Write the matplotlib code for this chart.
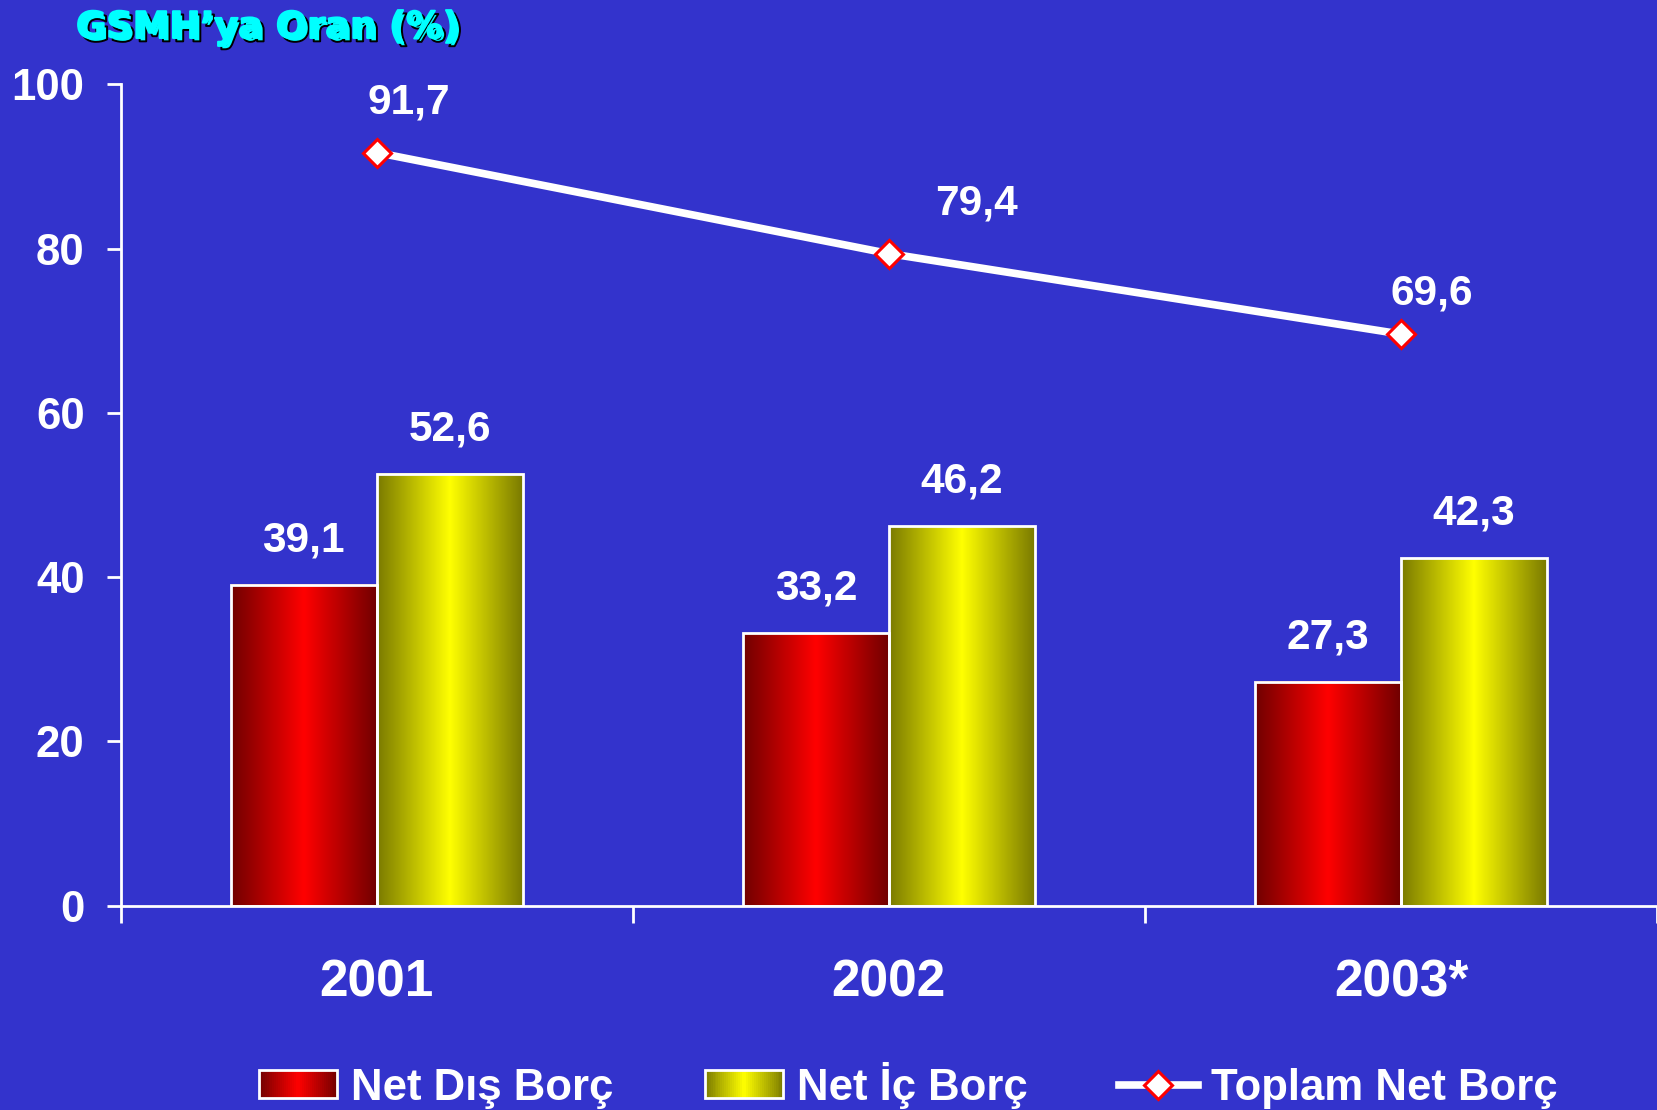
import numpy as np
import matplotlib
matplotlib.use("Agg")
import matplotlib.pyplot as plt
import matplotlib.patheffects as pe
from matplotlib.colors import LinearSegmentedColormap, to_rgb
from matplotlib.legend_handler import HandlerBase
from matplotlib.patches import Rectangle
from matplotlib.lines import Line2D

# data
years = ["2001", "2002", "2003*"]
net_dis = [39.1, 33.2, 27.3]
net_ic = [52.6, 46.2, 42.3]
toplam = [91.7, 79.4, 69.6]
labels = ["Net Dış Borç", "Net İç Borç", "Toplam Net Borç"]

BG = "#3333CC"
RED = ("#700000", "#FF0000")
YEL = ("#7A7A00", "#FFFF00")
FONT = "Liberation Sans"


def fmt(v):
    return ("%.1f" % v).replace(".", ",")


def make_cmap(dark, bright):
    return LinearSegmentedColormap.from_list("g", [dark, bright, dark])


class HandlerGradient(HandlerBase):
    def __init__(self, dark, bright, n=40):
        HandlerBase.__init__(self)
        self.dark = np.array(to_rgb(dark))
        self.bright = np.array(to_rgb(bright))
        self.n = n

    def create_artists(self, legend, orig_handle, xdescent, ydescent,
                       width, height, fontsize, trans):
        arts = []
        sw = width / self.n
        for i in range(self.n):
            t = (i + 0.5) / self.n
            k = 1 - abs(2 * t - 1)
            c = self.dark + (self.bright - self.dark) * k
            r = Rectangle((-xdescent + i * sw, -ydescent), sw * 1.05, height,
                          facecolor=c, edgecolor="none", transform=trans)
            arts.append(r)
        arts.append(Rectangle((-xdescent, -ydescent), width, height,
                              facecolor="none", edgecolor="white", lw=2,
                              transform=trans))
        return arts


fig = plt.figure(figsize=(16.57, 11.10), dpi=100, facecolor=BG)
ax = fig.add_axes([0.0728, 0.184, 0.9272, 0.74])
ax.set_facecolor(BG)

x = np.arange(len(years))
w = 0.285

grad = np.linspace(0, 1, 256).reshape(1, -1)
bars_red = ax.bar(x - w / 2, net_dis, w, facecolor="none", edgecolor="white", lw=2, zorder=3)
bars_yel = ax.bar(x + w / 2, net_ic, w, facecolor="none", edgecolor="white", lw=2, zorder=3)
for bars, cols in ((bars_red, RED), (bars_yel, YEL)):
    cm = make_cmap(*cols)
    for b in bars:
        ax.imshow(grad, cmap=cm, aspect="auto", zorder=2,
                  extent=(b.get_x(), b.get_x() + b.get_width(), 0, b.get_height()))
        ax.annotate(fmt(b.get_height()), (b.get_x() + b.get_width() / 2, b.get_height()),
                    xytext=(0, 32), textcoords="offset points", ha="center", va="center",
                    color="white", fontsize=30.5, fontweight="bold", family=FONT)

ax.plot(x, toplam, color="white", lw=5.5, marker="D", ms=14, mfc="white",
        mec="red", mew=2.2, zorder=4)
line_offsets = [(23, 36), (63, 36), (22, 29)]
for xi, v, off in zip(x, toplam, line_offsets):
    ax.annotate(fmt(v), (xi, v), xytext=off, textcoords="offset points",
                ha="center", va="center", color="white", fontsize=30.5,
                fontweight="bold", family=FONT)

ax.set_xlim(-0.5, 2.5)
ax.set_ylim(0, 100)

for s in ["top", "right"]:
    ax.spines[s].set_visible(False)
for s in ["left", "bottom"]:
    ax.spines[s].set_color("white")
    ax.spines[s].set_linewidth(2)

ax.set_yticks(np.arange(0, 101, 20))
ax.tick_params(axis="y", colors="white", length=10, width=2, pad=16,
               labelsize=31.5)
ax.set_xticks([-0.5, 0.5, 1.5, 2.5])
ax.set_xticklabels([])
ax.set_xticks(x, minor=True)
ax.set_xticklabels(years, minor=True)
ax.tick_params(axis="x", which="major", colors="white", length=12, width=2)
ax.tick_params(axis="x", which="minor", length=0, pad=38, labelsize=37,
               labelcolor="white")
for lab in ax.get_yticklabels() + ax.get_xticklabels(minor=True):
    lab.set_fontweight("bold")
    lab.set_family(FONT)

# title with a drop shadow
fig.text(0.046, 1 - 38 / 1110, "GSMH’ya Oran (%)", color="#00FFFF",
         fontsize=26.5, fontweight="bold", family="DejaVu Sans", va="baseline",
         path_effects=[pe.SimplePatchShadow(offset=(2.4, -2.4), shadow_rgbFace="black", alpha=1),
                       pe.Stroke(offset=(2.4, -2.4), linewidth=1.4, foreground="black"),
                       pe.Stroke(linewidth=1.4, foreground="#00FFFF"),
                       pe.Normal()])

h_red = Rectangle((0, 0), 1, 1)
h_yel = Rectangle((0, 0), 1, 1)
h_line = Line2D([], [], color="white", lw=5.5, marker="D", ms=14, mfc="white",
                mec="red", mew=2.2)
leg = fig.legend([h_red, h_yel, h_line], labels, loc="center",
                 bbox_to_anchor=(0.548, 0.0225), ncol=3, frameon=False,
                 handler_map={h_red: HandlerGradient(*RED), h_yel: HandlerGradient(*YEL)},
                 prop={"family": FONT, "weight": "bold", "size": 31.5},
                 handlelength=1.8, handleheight=0.58, handletextpad=0.3,
                 columnspacing=2.1, numpoints=1, borderpad=0)
for t in leg.get_texts():
    t.set_color("white")

fig.savefig("out.png", dpi=100, facecolor=BG)
